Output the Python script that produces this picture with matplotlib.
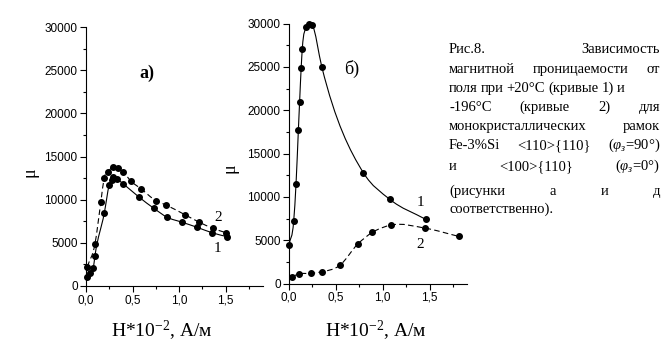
import numpy as np
import matplotlib.pyplot as plt
from matplotlib.path import Path
from matplotlib.patches import PathPatch
from matplotlib.ticker import MultipleLocator, FuncFormatter

plt.rcParams['mathtext.fontset'] = 'custom'
plt.rcParams['mathtext.rm'] = 'Liberation Serif'
plt.rcParams['mathtext.it'] = 'Liberation Serif:italic'

# a) <110>{110}
h1a = [0.014, 0.043, 0.078, 0.096, 0.196, 0.25, 0.275, 0.29, 0.335, 0.40,
       0.57, 0.727, 0.87, 1.03, 1.19, 1.35, 1.51]
mu1a = [1080, 1470, 2050, 3480, 8430, 11700, 12300, 12680, 12380, 11830,
        10290, 9010, 7970, 7390, 6810, 6180, 5720]
h2a = [0.014, 0.096, 0.16, 0.196, 0.239, 0.286, 0.339, 0.40, 0.48, 0.595,
       0.748, 0.855, 1.065, 1.21, 1.36, 1.50]
mu2a = [2240, 4870, 9780, 12560, 13220, 13840, 13720, 13220, 12180, 11220,
        9900, 9400, 8240, 7420, 6690, 6180]

# б) <100>{110}
h1b = [0.0, 0.05, 0.075, 0.10, 0.113, 0.13, 0.142, 0.185, 0.217, 0.248,
       0.35, 0.795, 1.075, 1.46]
mu1b = [4500, 7200, 11500, 17700, 20900, 24900, 27100, 29600, 29900, 29800,
        25000, 12760, 9720, 7400]
h2b = [0.036, 0.107, 0.23, 0.347, 0.543, 0.733, 0.89, 1.09, 1.455, 1.81]
mu2b = [800, 1100, 1170, 1340, 2100, 4540, 5900, 6740, 6380, 5440]

W, H = 668, 363
XMAX, YMAX = 1.9, 30000


def px(x, y):
    return x / W, 1 - y / H


def smooth(ax, x, y, ls):
    # cubic hermite through the measured points (Bessel slopes), as bezier path
    x = np.asarray(x, float)
    y = np.asarray(y, float)
    h = np.diff(x)
    d = np.diff(y) / h
    m = np.empty_like(y)
    m[0], m[-1] = d[0], d[-1]
    m[1:-1] = (h[1:] * d[:-1] + h[:-1] * d[1:]) / (h[:-1] + h[1:])
    verts = [(x[0], y[0])]
    codes = [Path.MOVETO]
    for i in range(len(x) - 1):
        verts += [(x[i] + h[i] / 3, y[i] + m[i] * h[i] / 3),
                  (x[i + 1] - h[i] / 3, y[i + 1] - m[i + 1] * h[i] / 3),
                  (x[i + 1], y[i + 1])]
        codes += [Path.CURVE4] * 3
    ax.add_patch(PathPatch(Path(verts, codes), fill=False, lw=0.8,
                           ec='black', ls=ls))


def setup(ax):
    ax.set_xlim(0, XMAX)
    ax.set_ylim(0, YMAX)
    for s in ['top', 'right']:
        ax.spines[s].set_visible(False)
    for s in ['left', 'bottom']:
        ax.spines[s].set_linewidth(0.8)
    ax.xaxis.set_major_locator(MultipleLocator(0.5))
    ax.xaxis.set_minor_locator(MultipleLocator(0.25))
    ax.yaxis.set_major_locator(MultipleLocator(5000))
    ax.yaxis.set_minor_locator(MultipleLocator(2500))
    ax.xaxis.set_major_formatter(FuncFormatter(lambda v, p: f"{v:.1f}".replace('.', ',')))
    ax.yaxis.set_major_formatter(FuncFormatter(lambda v, p: f"{v:.0f}"))
    ax.tick_params(which='major', direction='out', length=4, width=0.8,
                   labelsize=8.5, pad=2)
    ax.tick_params(which='minor', direction='out', length=2.5, width=0.8)
    for lab in ax.get_xticklabels() + ax.get_yticklabels():
        lab.set_family('Liberation Sans')


fig = plt.figure(figsize=(W / 100, H / 100), dpi=100)
axA = fig.add_axes([86 / W, 1 - 286 / H, 177 / W, 259 / H])
axB = fig.add_axes([289 / W, 1 - 283.5 / H, 178 / W, 260 / H])

for ax, (ha, ma, hb, mb) in zip([axA, axB], [(h1a, mu1a, h2a, mu2a),
                                             (h1b, mu1b, h2b, mu2b)]):
    setup(ax)
    smooth(ax, ha, ma, '-')
    smooth(ax, hb, mb, (0, (5, 3)))
    ax.plot(ha, ma, 'o', color='black', ms=4, clip_on=False)
    ax.plot(hb, mb, 'o', color='black', ms=4, clip_on=False)

serif = 'Liberation Serif'
fig.text(*px(147, 73), 'а)', family=serif, fontsize=13, fontweight='bold',
         ha='center', va='center')
fig.text(*px(352, 69), 'б)', family=serif, fontsize=13, ha='center', va='center')
fig.text(*px(218, 217), '2', family=serif, fontsize=11, ha='center', va='center')
fig.text(*px(217, 249), '1', family=serif, fontsize=11, ha='center', va='center')
fig.text(*px(420, 203), '1', family=serif, fontsize=11, ha='center', va='center')
fig.text(*px(420, 244), '2', family=serif, fontsize=11, ha='center', va='center')
fig.text(*px(30, 172), 'μ', family=serif, fontsize=13, rotation=90,
         ha='center', va='center')
fig.text(*px(230, 168), 'μ', family=serif, fontsize=13, rotation=90,
         ha='center', va='center')
xlab = 'H*10$^{-2}$, А/м'
fig.text(*px(162, 331), xlab, family=serif, fontsize=14, ha='center', va='center')
fig.text(*px(376, 331), xlab, family=serif, fontsize=14, ha='center', va='center')

# caption, justified
caption = [
    (['Рис.8.', 'Зависимость'], 53, True),
    (['магнитной', 'проницаемости', 'от'], 73, True),
    (['поля', 'при', '+20°С', '(кривые', '1)', 'и'], 92, False),
    (['-196°С', '(кривые', '2)', 'для'], 111, True),
    (['монокристаллических', 'рамок'], 130, True),
    (['Fe-3%Si', '<110>{110}', r'($\varphi_з$=90°)'], 149, True),
    (['и', '<100>{110}', r'($\varphi_з$=0°)'], 170, True),
    (['(рисунки', 'а', 'и', 'д'], 195, True),
    (['соответственно).'], 213, False),
]
X0, X1 = 449, 660
r = fig.canvas.get_renderer()
for words, yb, just in caption:
    texts = [fig.text(0, 1 - yb / H, w, family=serif, fontsize=10.5,
                      ha='left', va='baseline') for w in words]
    widths = [t.get_window_extent(r).width for t in texts]
    if just and len(words) > 1:
        gap = (X1 - X0 - sum(widths)) / (len(words) - 1)
    else:
        gap = 3.0
    x = X0
    for t, w in zip(texts, widths):
        t.set_x(x / W)
        x += w + gap

fig.savefig('out.png', dpi=100, facecolor='white')
